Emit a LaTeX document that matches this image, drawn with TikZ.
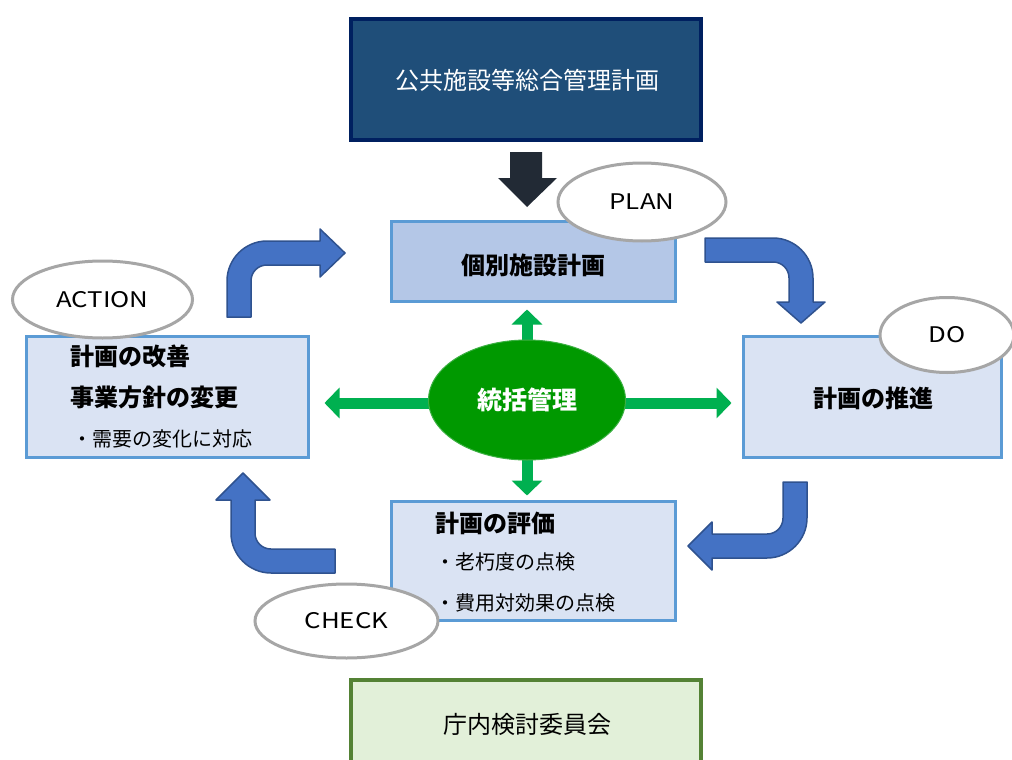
\documentclass[tikz,border=0pt]{standalone}
\usepackage{fontspec}
\usepackage{graphicx}
\newfontfamily\jp{Noto Sans CJK JP}
\newcommand{\wide}[1]{\scalebox{1.2}[1]{#1}}
\usetikzlibrary{arrows.meta,shapes.geometric,calc}
\definecolor{topfill}{HTML}{1F4E79}
\definecolor{topborder}{HTML}{002060}
\definecolor{planfill}{HTML}{B4C7E7}
\definecolor{boxfill}{HTML}{DAE3F3}
\definecolor{boxborder}{HTML}{5B9BD5}
\definecolor{ctrfill}{HTML}{009900}
\definecolor{ctrborder}{HTML}{3CB043}
\definecolor{garrowc}{HTML}{00B050}
\definecolor{botfill}{HTML}{E2F0D9}
\definecolor{botborder}{HTML}{548235}
\definecolor{barrowfill}{HTML}{4472C4}
\definecolor{barrowborder}{HTML}{2F528F}
\definecolor{darkarrow}{HTML}{222A35}
\definecolor{ellgray}{HTML}{A6A6A6}
\tikzset{
  box/.style={draw=boxborder, line width=3pt, fill=boxfill, inner sep=0pt},
  lbl/.style={ellipse, draw=ellgray, line width=3pt, fill=white, inner sep=0pt,
    font=\jp\fontsize{21.5}{25}\selectfont},
  bold/.style={font=\jp\bfseries\fontsize{24}{28}\selectfont},
  bullet/.style={font=\jp\fontsize{20}{24}\selectfont},
  garrow/.style={draw=garrowc, line width=11pt, -{Triangle[length=15pt,width=30pt]}},
  bentarrow/.style={fill=barrowfill, draw=barrowborder, line width=1.5pt, line join=round},
}
\begin{document}
\begin{tikzpicture}[x=1pt,y=-1pt]
\useasboundingbox (0,0) rectangle (1012,760);
\fill[white] (0,0) rectangle (1012,760);

% boxes
\node[draw=topborder, line width=4pt, fill=topfill, minimum width=350pt, minimum height=121pt, inner sep=0pt] (top) at (526,79.5) {};
\node[text=white, font=\jp\fontsize{24}{28}\selectfont] (toptext) at (527,80) {公共施設等総合管理計画};

\node[box, fill=planfill, minimum width=284pt, minimum height=80pt] (plan) at (533.5,261.5) {};
\node[bold] (plantext) at (533,265) {個別施設計画};

\node[box, minimum width=258pt, minimum height=121pt] (do) at (872.5,397) {};
\node[bold] (dotext) at (873,398) {計画の推進};

\node[box, minimum width=282pt, minimum height=121pt] (act) at (167.5,397) {};
\node[bold, anchor=west, inner sep=0pt] (act1) at (70,356) {計画の改善};
\node[bold, anchor=west, inner sep=0pt] (act2) at (70,397) {事業方針の変更};
\node[bullet, anchor=west, inner sep=0pt] (act3) at (72,439) {・需要の変化に対応};

\node[box, minimum width=284pt, minimum height=119pt] (chk) at (533.5,561) {};
\node[bold, anchor=west, inner sep=0pt] (chk1) at (435,523) {計画の評価};
\node[bullet, anchor=west, inner sep=0pt] (chk2) at (435,562) {・老朽度の点検};
\node[bullet, anchor=west, inner sep=0pt] (chk3) at (435,603) {・費用対効果の点検};

\node[draw=botborder, line width=4pt, fill=botfill, minimum width=350pt, minimum height=120pt, inner sep=0pt] (bot) at (526,740) {};
\node[font=\jp\fontsize{24}{28}\selectfont] (bottext) at (527,724) {庁内検討委員会};

% dark block arrow from top box to plan box
\fill[darkarrow] (510,152) -- (542,152) -- (542,178) -- (557,178) -- (527,207) -- (498,178) -- (510,178) -- cycle;

% bent block arrows
\draw[bentarrow] (227,317) -- (227,281) .. controls (227,259) and (245,241) .. (267,241) -- (320,241) -- (320,229) -- (345,253) -- (320,277) -- (320,265) -- (267,265) .. controls (258,265) and (251,272) .. (251,281) -- (251,317) -- cycle;
\draw[bentarrow] (705,238) -- (773,238) .. controls (795,238) and (813,256) .. (813,278) -- (813,302) -- (825,302) -- (801,323) -- (777,302) -- (789,302) -- (789,278) .. controls (789,269) and (782,262) .. (773,262) -- (705,262) -- cycle;
\draw[bentarrow] (783,482) -- (807,482) -- (807,518) .. controls (807,540) and (789,558) .. (767,558) -- (712,558) -- (712,570) -- (688,546) -- (712,522) -- (712,534) -- (767,534) .. controls (776,534) and (783,527) .. (783,518) -- cycle;
\draw[bentarrow] (335,549) -- (335,573) -- (271,573) .. controls (249,573) and (231,555) .. (231,533) -- (231,500) -- (216,500) -- (243,473) -- (270,500) -- (255,500) -- (255,533) .. controls (255,542) and (262,549) .. (271,549) -- cycle;

% central management and green arrows
\coordinate (hc) at (527,403);
\coordinate (vc) at (527,400);
\draw[garrow, shorten >=6.5pt] (vc) -- (vc |- plan.south);
\draw[garrow, shorten >=4.5pt] (vc) -- (vc |- chk.north);
\draw[garrow, shorten >=14.5pt] (hc) -- (hc -| act.east);
\draw[garrow, shorten >=10.5pt] (hc) -- (hc -| do.west);
\node[ellipse, fill=ctrfill, draw=ctrborder, line width=1pt, minimum width=197pt, minimum height=120pt, inner sep=0pt, text=white, font=\jp\bfseries\fontsize{25}{30}\selectfont] (ctr) at (527,400) {統括管理};

% PDCA labels
\node[lbl, minimum width=168pt, minimum height=78pt] (planlbl) at (642,202) {\wide{PLAN}};
\node[lbl, minimum width=134pt, minimum height=75pt] (dolbl) at (947,335) {\wide{DO}};
\node[lbl, minimum width=180pt, minimum height=77pt] (actlbl) at (102.5,299.5) {\wide{ACTION}};
\node[lbl, minimum width=183pt, minimum height=74pt] (chklbl) at (346.5,621) {\wide{CHECK}};
\end{tikzpicture}
\end{document}
